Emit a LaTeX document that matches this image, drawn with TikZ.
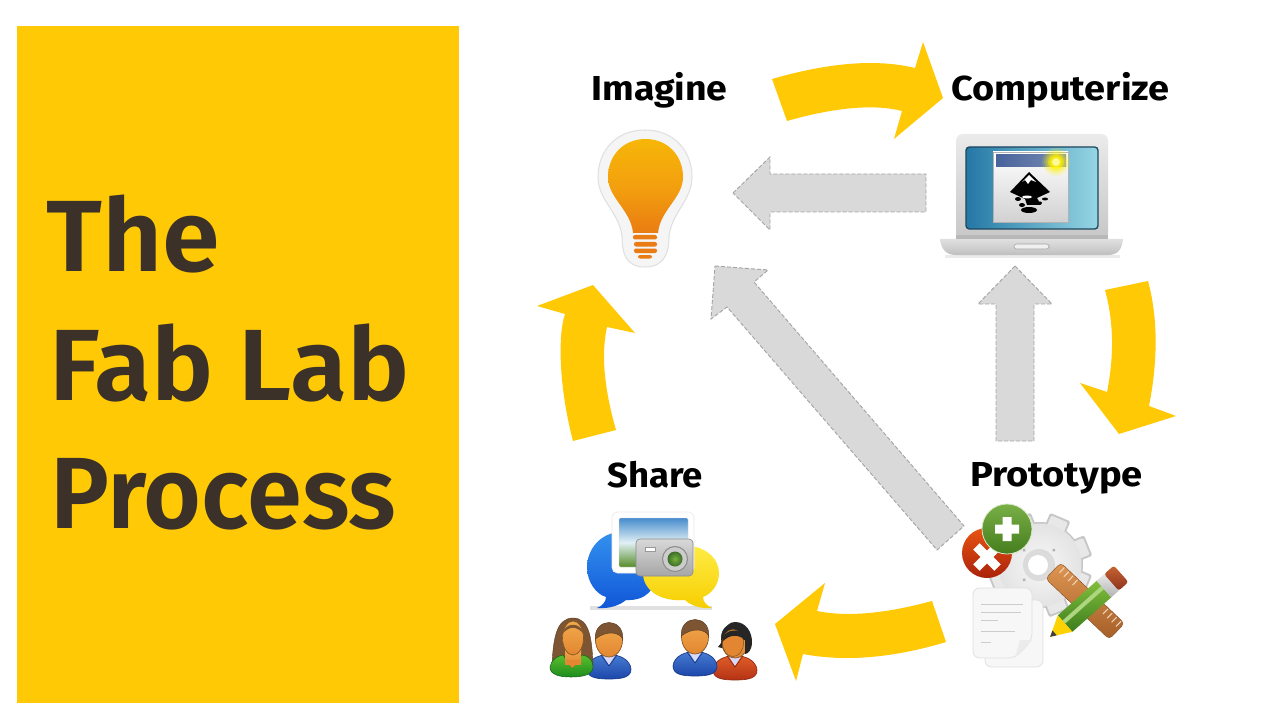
\documentclass[tikz,border=0pt]{standalone}
\usepackage{fontspec}
\setmainfont{Fira Sans}
\newfontfamily\titlefont{Fira Sans SemiBold}
\newfontfamily\labelfont{Fira Sans Bold}
\usetikzlibrary{shapes.geometric}
\definecolor{gold}{RGB}{255,201,5}
\definecolor{inkbrown}{RGB}{59,49,41}
\definecolor{greyfill}{RGB}{217,217,217}
\definecolor{greyedge}{RGB}{165,165,165}
\definecolor{bulbtop}{RGB}{246,182,8}
\definecolor{bulbmid}{RGB}{243,160,14}
\definecolor{bulbbot}{RGB}{233,124,18}
\definecolor{scrdark}{RGB}{36,120,165}
\definecolor{scrlight}{RGB}{150,214,228}
\definecolor{scredge}{RGB}{30,70,95}
\definecolor{barleft}{RGB}{72,98,155}
\definecolor{barright}{RGB}{120,140,180}
\definecolor{bluebubtop}{RGB}{52,145,238}
\definecolor{bluebubbot}{RGB}{16,86,216}
\definecolor{yelbubtop}{RGB}{255,236,70}
\definecolor{yelbubbot}{RGB}{246,206,0}
\definecolor{skintop}{RGB}{242,170,75}
\definecolor{skinbot}{RGB}{226,134,50}
\definecolor{skinedge}{RGB}{130,85,40}
\definecolor{hairbrown}{RGB}{125,85,50}
\definecolor{hairblack}{RGB}{38,38,38}
\definecolor{manlight}{RGB}{72,125,210}
\definecolor{mandark}{RGB}{28,70,170}
\definecolor{redlight}{RGB}{225,95,40}
\definecolor{reddark}{RGB}{180,50,20}
\definecolor{wgreen}{RGB}{90,190,45}
\definecolor{wgreendark}{RGB}{30,140,30}
\definecolor{crosstop}{RGB}{232,84,20}
\definecolor{crossbot}{RGB}{170,34,10}
\definecolor{plustop}{RGB}{120,175,70}
\definecolor{plusbot}{RGB}{70,125,30}
\definecolor{rultop}{RGB}{222,150,82}
\definecolor{rulbot}{RGB}{165,95,40}
\definecolor{pentop}{RGB}{130,190,60}
\definecolor{penbot}{RGB}{60,125,30}
\definecolor{erasetop}{RGB}{200,100,50}
\definecolor{erasebot}{RGB}{140,50,30}
\definecolor{lensgreen}{RGB}{120,175,60}
\definecolor{lensdark}{RGB}{60,110,40}
\definecolor{skyblue}{RGB}{70,140,205}
\definecolor{grassgreen}{RGB}{85,140,40}
\definecolor{cloud}{RGB}{225,240,245}
\tikzset{
  goldarrow/.style={fill=gold,draw=none},
  greyarrow/.style={fill=greyfill,draw=greyedge,line width=.7pt,dash pattern=on 3pt off 1.5pt},
  bigtitle/.style={anchor=base west,inner sep=0pt,text=inkbrown,font=\titlefont\fontsize{76}{76}\selectfont},
  steplabel/.style={anchor=base,inner sep=0pt,text=black,font=\labelfont\fontsize{26}{26}\selectfont},
  skin/.style={top color=skintop,bottom color=skinbot,draw=skinedge,line width=.5pt},
}
% person icon: head centre, body colours, hair colour
\newcommand\personicon[5]{%
 \begin{scope}[shift={(#1,#2)}]
  \path[top color=#3,bottom color=#4,draw=#4!80!black,line width=.5pt]
   (-22,28) .. controls (-21,18) and (-10,14) .. (0,13) .. controls (10,14) and (21,18) .. (22,28)
   .. controls (22,36) and (14,38) .. (0,38) .. controls (-14,38) and (-22,36) .. (-22,28) -- cycle;
  \fill[white!85!blue] (-7,13) -- (0,24) -- (7,13) -- cycle;
  \draw[#4!70!black,line width=.4pt] (-8,14) -- (0,25) -- (8,14);
  \path[skin] (0,-1) ellipse (13.5 and 17);
  \path[fill=#5,draw=#5!70!black,line width=.3pt] (-13.8,-2) .. controls (-15,-24) and (15,-24) .. (13.8,-2)
     .. controls (10,-9) and (-2,-11) .. (-13.8,-2) -- cycle;
 \end{scope}}
\begin{document}
\begin{tikzpicture}[x=0.75pt,y=-0.75pt]
\useasboundingbox (0,0) rectangle (1280,720);
\fill[white] (0,0) rectangle (1280,720);
\fill[gold] (17,26) rectangle (459,703);
\node[bigtitle] (t1) at (46,272) {\scalebox{1.03}[1]{The}};
\node[bigtitle] (t2) at (49,400) {\scalebox{1.03}[1]{Fab Lab}};
\node[bigtitle] (t3) at (50,528) {\scalebox{.98}[1]{Process}};

\node[steplabel] (imagine) at (659.5,101) {\scalebox{1.08}[1]{Imagine}};
\node[steplabel] (computerize) at (1060.5,101) {\scalebox{1.095}[1]{Computerize}};
\node[steplabel] (prototype) at (1056.5,486) {\scalebox{1.10}[1]{Prototype}};
\node[steplabel] (share) at (655,487) {\scalebox{1.055}[1]{Share}};

% gold arrows
\path[goldarrow] (772,79) .. controls (831,62) and (878,59) .. (915,68) -- (923,42) -- (943,98) -- (894,139) -- (902,111)
  .. controls (875,104) and (836,107) .. (787,121) -- cycle;
\path[goldarrow] (1105,290) -- (1148,281) .. controls (1158,318) and (1158,360) .. (1149,406) -- (1176,416) -- (1119,434)
  -- (1080,383) -- (1107,392) .. controls (1114,357) and (1114,323) .. (1105,290) -- cycle;
\path[goldarrow] (932,601) -- (946,642) .. controls (893,658) and (845,662) .. (803,654) -- (796,681) -- (775,624)
  -- (825,583) -- (817,611) .. controls (846,617) and (884,614) .. (932,601) -- cycle;
\path[goldarrow] (573,441) -- (616,430) .. controls (604,388) and (601,354) .. (607,327) -- (635,333) -- (593,285)
  -- (537,306) -- (565,314) .. controls (557,338) and (560,392) .. (573,441) -- cycle;

% grey arrows
\path[greyarrow] (733,193) -- (770,157) -- (770,174) -- (926,174) -- (926,212) -- (770,212) -- (770,230) -- cycle;
\path[greyarrow] (1015,266) -- (1052,304) -- (1034,304) -- (1034,441) -- (996,441) -- (996,304) -- (978,304) -- cycle;
\path[greyarrow] (715,266) -- (768,270) -- (754,282) -- (964,526) -- (937,550) -- (727,307) -- (711,319) -- cycle;

% bulb
\path[fill=white!96!black,draw=black!12,line width=.8pt]
 (645,130) .. controls (675,130) and (692,152) .. (692,177) .. controls (692,200) and (672,212) .. (669,236)
 .. controls (669,252) and (665,267) .. (645,267) .. controls (625,267) and (622,252) .. (622,236)
 .. controls (619,212) and (598,200) .. (598,177) .. controls (598,152) and (615,130) .. (645,130) -- cycle;
\path[top color=bulbtop,bottom color=bulbbot,middle color=bulbmid]
 (645.5,139) .. controls (668,139) and (683,156) .. (683,177) .. controls (683,198) and (660,210) .. (658,233)
 -- (633,233) .. controls (631,210) and (608,198) .. (608,177) .. controls (608,156) and (623,139) .. (645.5,139) -- cycle;
\foreach \yy/\xa/\xb in {235/633/657,242/634/657,248.5/634/657}{
 \fill[bulbbot,rounded corners=1.5pt] (\xa,\yy) rectangle (\xb,\yy+4.5);}
\fill[bulbbot,rounded corners=1.5pt] (638,255) rectangle (652,258.5);

% laptop
\path[fill=black!8] (945,255) rectangle (1120,258);
\path[top color=black!8,bottom color=black!22,rounded corners=5pt] (956,134) -- (1108,134) -- (1108,240) -- (956,240) -- cycle;
\path[top color=black!12,bottom color=black!25] (940,239) -- (1123,239) .. controls (1122,249) and (1118,255) .. (1108,255)
 -- (956,255) .. controls (946,255) and (941,249) .. (940,239) -- cycle;
\path[fill=black!6,draw=black!35,line width=.4pt,rounded corners=2pt] (1014,244) rectangle (1049,249);
\path[fill=black!28] (956,235) rectangle (1108,239);
\path[left color=scrdark,right color=scrlight,draw=scredge,line width=1pt,rounded corners=2.5pt] (966,147) rectangle (1098,229);
\path[top color=white,bottom color=black!18,draw=black!30,line width=.4pt] (993,152) rectangle (1068,222);
\path[left color=barleft,right color=barright] (996,155) rectangle (1066,167);
\fill[black] (1029,172) -- (1050,192) -- (1037,198) -- (1041,205) -- (1027,205) -- (1025,199) -- (1010,192) -- cycle;
\fill[white] (1029,175) -- (1036,182) -- (1031,180) -- (1028,184) -- (1025,180) -- (1022,182) -- cycle;
\fill[black] (1018,199) ellipse (3 and 2) (1029,210) ellipse (8 and 3) (1045,199) ellipse (3 and 1.5) (1040,203) ellipse (2 and 1.5) (1022,205) ellipse (3 and 2);
\fill[white] (1027,197) ellipse (5 and 1.5);
\foreach \rr/\op in {14/.15,12/.2,10/.3,8/.5,6/.7}{\fill[yellow,opacity=\op] (1056,162) circle (\rr);}
\fill[white!60!yellow] (1056,162) circle (4);

% share: bubbles
\fill[black!12] (590,606) rectangle (712,610);
\path[top color=bluebubtop,bottom color=bluebubbot]
 (622,532) .. controls (600,532) and (587,550) .. (587,567) .. controls (587,582) and (596,594) .. (606,597)
 .. controls (606,602) and (602,606) .. (597,608) .. controls (610,609) and (620,605) .. (626,600)
 .. controls (645,601) and (657,590) .. (657,570) -- (657,540) -- cycle;
\path[top color=yelbubtop,bottom color=yelbubbot]
 (681,545) .. controls (705,545) and (719,558) .. (719,573) .. controls (719,585) and (711,594) .. (703,597)
 .. controls (703,602) and (707,606) .. (712,608) .. controls (700,609) and (690,605) .. (685,600)
 .. controls (660,602) and (643,590) .. (643,573) -- (660,550) -- cycle;
\path[fill=white,draw=black!8,line width=.5pt,rounded corners=4pt] (612,512) rectangle (694,573);
\path[top color=skyblue,bottom color=grassgreen,middle color=cloud,rounded corners=1pt,draw=black!15,line width=.3pt] (619,518) rectangle (688,567);
\path[top color=black!15,bottom color=black!35,draw=black!45,line width=.5pt,rounded corners=3pt] (636,539) rectangle (693,576);
\path[fill=white,draw=black!40,line width=.3pt] (645,547) rectangle (655,551);
\path[fill=black!20,draw=black!45,line width=.8pt] (675,559) circle (12.5);
\shade[inner color=lensgreen,outer color=lensdark] (675,559) circle (7.5);

% people
\personicon{609}{641}{manlight}{mandark}{hairbrown}
\path[fill=hairbrown,draw=hairbrown!70!black,line width=.3pt] (573,618) .. controls (556,618) and (553,640) .. (552,666)
  -- (593,666) .. controls (592,640) and (590,618) .. (573,618) -- cycle;
\path[top color=wgreen,bottom color=wgreendark,draw=wgreendark!70!black,line width=.4pt]
  (550,667) .. controls (551,660) and (557,656) .. (563,655) -- (572,668) -- (582,655) .. controls (589,656) and (593,660) .. (593,667)
  .. controls (593,675) and (582,677) .. (571,677) .. controls (560,677) and (550,675) .. (550,667) -- cycle;
\path[skin,draw=none] (565,648) rectangle (581,664);
\fill[skinbot] (565,660) -- (572,668) -- (581,660) -- cycle;
\path[skin] (573,638) ellipse (10.5 and 17);
\fill[hairbrown] (563,633) .. controls (565,622) and (581,622) .. (583,633) .. controls (576,626) and (570,626) .. (563,633) -- cycle;
\personicon{735}{642}{redlight}{reddark}{hairblack}
\path[fill=hairblack] (718,647) .. controls (726,640) and (722,622) .. (735,622) .. controls (746,622) and (752,632) .. (752,642)
  .. controls (752,650) and (748,654) .. (745,654) -- (745,640) -- (724,640) -- (722,648) -- cycle;
\path[fill=skinbot,draw=skinedge,line width=.4pt] (733,643) ellipse (10.5 and 13.5);
\fill[hairblack] (722,642) .. controls (722,628) and (744,626) .. (745,640) .. controls (738,634) and (730,634) .. (722,642) -- cycle;
\personicon{695}{638}{manlight}{mandark}{hairbrown}

% prototype: gear
\foreach \a in {0,45,...,315}{
 \path[fill=black!22,rotate around={\a+22:(1040,565)},rounded corners=1.5pt] (1029,513) rectangle (1051,540);}
\fill[black!22] (1040,565) circle (43);
\foreach \a in {0,45,...,315}{
 \path[fill=black!9,rotate around={\a+22:(1040,565)},rounded corners=1pt] (1031,515) rectangle (1049,540);}
\shade[inner color=black!3,outer color=black!11] (1040,565) circle (41.5);
\foreach \a in {45,135,225,315}{\fill[black!30,rotate around={\a:(1039,565)}] (1039,544) circle (1.8);}
\fill[black!14] (1039,565) circle (16);
\fill[white] (1038,565) circle (10);
% prototype: plus and cross
\path[top color=crosstop,bottom color=crossbot] (987,553) circle (25);
\fill[white,rotate around={45:(987,557)}] (982.5,542) rectangle (991.5,572) (972,552.5) rectangle (1002,561.5);
\path[top color=plustop,bottom color=plusbot,draw=plustop!30!white,line width=.6pt] (1007,529) circle (25);
\fill[white] (1002.5,517) rectangle (1011.5,541) (995,524.5) rectangle (1019,533.5);
% ruler and pencil
\begin{scope}[shift={(1085,601)},rotate=-43.6]
 \path[top color=rultop,bottom color=rulbot,rounded corners=3pt,draw=rulbot!80!black,line width=.3pt] (-44,-11) rectangle (44,11);
 \foreach \xx in {-38,-32,-26,-20,22,28,34,40}{\draw[rultop!40!white,line width=.8pt] (\xx,-10) -- (\xx,-3);}
\end{scope}
\begin{scope}[shift={(1086,605)},rotate=41.6]
 \path[top color=pentop,bottom color=penbot] (-28,-11) rectangle (24,11);
 \fill[pentop!65!white] (-28,-4) rectangle (24,0);
 \path[top color=black!8,bottom color=black!30] (24,-11) rectangle (36,11);
 \path[top color=erasetop,bottom color=erasebot,rounded corners=2pt] (34,-11) rectangle (47,11);
 \path[fill=yellow!70!orange] (-28,-11) -- (-48,0) -- (-28,11) -- cycle;
 \fill[black!75] (-48,0) -- (-42,-3.2) -- (-42,3.2) -- cycle;
\end{scope}
% pages
\path[fill=black!3,draw=black!12,line width=.6pt,rounded corners=5pt] (985,600) rectangle (1043,667);
\path[fill=white!97!black,draw=black!12,line width=.6pt,rounded corners=5pt] (973,588) -- (1032,588) -- (1032,640) -- (1015,658) -- (973,658) -- cycle;
\path[fill=black!8] (1032,640) -- (1015,658) -- (1020,640) -- cycle;
\foreach \yy/\xe in {598/1023,606/1021,614/998,625/1015,636/991}{
 \draw[black!20,line width=.7pt] (981,\yy+6) -- (\xe,\yy+6);}
\end{tikzpicture}
\end{document}
